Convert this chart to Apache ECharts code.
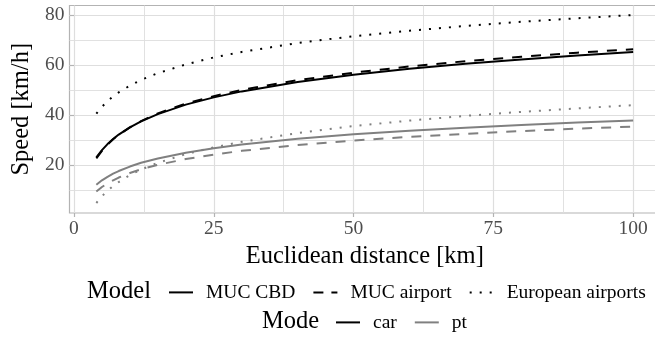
<!DOCTYPE html>
<html>
<head>
<meta charset="utf-8">
<script src="https://cdn.jsdelivr.net/npm/echarts@6/dist/echarts.min.js"></script>
<style>
html,body{margin:0;padding:0;background:#ffffff;}
#chart{width:655px;height:338px;}
</style>
</head>
<body>
<div id="chart"></div>
<script>
// ---- data ----
const distance   = [4, 5, 6, 7, 8, 10, 12, 15, 20, 25, 30, 40, 50, 60, 70, 80, 90, 100];
const carCBD      = [23.0, 25.9, 28.3, 30.3, 32.1, 35.0, 37.4, 40.3, 44.1, 47.0, 49.4, 53.2, 56.1, 58.5, 60.5, 62.2, 63.8, 65.2];
const carAirport  = [22.6, 25.6, 28.1, 30.2, 32.0, 35.0, 37.5, 40.6, 44.5, 47.5, 50.0, 53.9, 56.9, 59.4, 61.5, 63.3, 64.9, 66.3];
const carEuropean = [40.5, 43.2, 45.5, 47.4, 49.0, 51.7, 54.0, 56.7, 60.2, 63.0, 65.2, 68.8, 71.5, 73.7, 75.6, 77.3, 78.7, 80.0];
const ptCBD       = [12.0, 13.8, 15.2, 16.5, 17.5, 19.3, 20.8, 22.5, 24.8, 26.6, 28.1, 30.4, 32.2, 33.6, 34.8, 35.9, 36.9, 37.7];
const ptAirport   = [9.3, 11.1, 12.6, 13.8, 14.9, 16.7, 18.2, 20.0, 22.3, 24.1, 25.6, 27.9, 29.7, 31.2, 32.4, 33.5, 34.5, 35.3];
const ptEuropean  = [4.7, 7.4, 9.6, 11.5, 13.1, 15.9, 18.1, 20.8, 24.3, 27.0, 29.2, 32.7, 35.5, 37.7, 39.6, 41.2, 42.6, 43.9];

const xMajorTicks = [0, 25, 50, 75, 100];
const xMinorTicks = [12.5, 37.5, 62.5, 87.5];
const yMajorTicks = [20, 40, 60, 80];
const yMinorTicks = [10, 30, 50, 70];

const modelNames = ['MUC CBD', 'MUC airport', 'European airports'];
const modeNames  = ['car', 'pt'];

// ---- styling ----
const FONT = '"Liberation Serif", "Times New Roman", serif';
const BLACK = '#000000';
const GREY = '#808080';
const GRID = '#dedede';
const BORDER = '#b3b3b3';
const TICKTEXT = '#4d4d4d';
const LINE_W = 2;
const dashOf = { 'MUC CBD': 'solid', 'MUC airport': [10, 9], 'European airports': [2, 8] };
const colorOf = { car: BLACK, pt: GREY };
const NONE = 'rgba(0,0,0,0)';

const X_MIN = -0.8, X_MAX = 104.8, Y_MIN = 0.7, Y_MAX = 83.8;

const lines = [
  { mode: 'pt',  model: 'MUC CBD',           values: ptCBD },
  { mode: 'pt',  model: 'MUC airport',       values: ptAirport },
  { mode: 'pt',  model: 'European airports', values: ptEuropean },
  { mode: 'car', model: 'MUC CBD',           values: carCBD },
  { mode: 'car', model: 'MUC airport',       values: carAirport },
  { mode: 'car', model: 'European airports', values: carEuropean }
];

const series = lines.map(l => ({
  type: 'line',
  name: l.mode + ' / ' + l.model,
  xAxisIndex: 0, yAxisIndex: 0,
  data: distance.map((d, i) => [d, l.values[i]]),
  symbol: 'none',
  smooth: false,
  silent: true,
  lineStyle: { color: colorOf[l.mode], width: LINE_W, type: dashOf[l.model], cap: 'butt' },
  itemStyle: { color: colorOf[l.mode] },
  z: l.mode === 'car' ? 3 : 2
}));

// legend-only series (no data, only provide the legend keys)
modelNames.forEach(m => series.push({
  type: 'line', name: m, data: [], symbol: 'none', symbolSize: 0,
  xAxisIndex: 0, yAxisIndex: 0,
  lineStyle: { color: BLACK, width: LINE_W, type: m === 'MUC airport' ? [10, 8] : dashOf[m] },
  itemStyle: { color: NONE, borderColor: NONE, borderWidth: 0, opacity: 0 }
}));
modeNames.forEach(m => series.push({
  type: 'line', name: m, data: [], symbol: 'none', symbolSize: 0,
  xAxisIndex: 0, yAxisIndex: 0,
  lineStyle: { color: colorOf[m], width: LINE_W, type: 'solid' },
  itemStyle: { color: NONE, borderColor: NONE, borderWidth: 0, opacity: 0 }
}));

const labelStyle = { color: TICKTEXT, fontFamily: FONT, fontSize: 19.5 };

const legendCommon = {
  orient: 'horizontal',
  itemWidth: 24, itemHeight: 20, itemGap: 17, padding: 0, selectedMode: false,
  itemStyle: { color: NONE, borderColor: NONE, borderWidth: 0, opacity: 0 },
  textStyle: { fontFamily: FONT, fontSize: 19.5, color: '#000000', padding: [0, 0, 0, 8] }
};

const option = {
  animation: false,
  backgroundColor: '#ffffff',
  grid: {
    left: 69.5, top: 5.5, right: -5, bottom: 125,
    show: true, borderColor: BORDER, borderWidth: 1.2, backgroundColor: 'transparent',
    containLabel: false, outerBoundsMode: 'none'
  },
  xAxis: [
    {
      type: 'value', min: X_MIN, max: X_MAX, gridIndex: 0, position: 'bottom',
      axisLine: { show: false },
      axisTick: { show: true, length: 4, lineStyle: { color: BORDER, width: 1.2 }, customValues: xMajorTicks },
      axisLabel: Object.assign({ show: true, margin: 6, customValues: xMajorTicks }, labelStyle),
      splitLine: { show: true, lineStyle: { color: GRID, width: 1.2 } },
      name: 'Euclidean distance [km]', nameLocation: 'middle', nameGap: 27,
      nameTextStyle: { fontFamily: FONT, fontSize: 24.5, color: '#000000' }
    },
    {
      type: 'value', min: X_MIN, max: X_MAX, gridIndex: 0, position: 'top',
      axisLine: { show: false },
      axisTick: { show: false, customValues: xMinorTicks },
      axisLabel: { show: false, customValues: xMinorTicks },
      splitLine: { show: true, lineStyle: { color: GRID, width: 0.9 } }
    }
  ],
  yAxis: [
    {
      type: 'value', min: Y_MIN, max: Y_MAX, gridIndex: 0, position: 'left',
      axisLine: { show: false },
      axisTick: { show: true, length: 4, lineStyle: { color: BORDER, width: 1.2 }, customValues: yMajorTicks },
      axisLabel: Object.assign({ show: true, margin: 5, customValues: yMajorTicks }, labelStyle),
      splitLine: { show: true, lineStyle: { color: GRID, width: 1.2 } },
      name: 'Speed [km/h]', nameLocation: 'middle', nameGap: 31, nameRotate: 90,
      nameTextStyle: { fontFamily: FONT, fontSize: 24.5, color: '#000000' }
    },
    {
      type: 'value', min: Y_MIN, max: Y_MAX, gridIndex: 0, position: 'right',
      axisLine: { show: false },
      axisTick: { show: false, customValues: yMinorTicks },
      axisLabel: { show: false, customValues: yMinorTicks },
      splitLine: { show: true, lineStyle: { color: GRID, width: 0.9 } }
    }
  ],
  legend: [
    Object.assign({ data: modelNames, left: 168, top: 282.4 }, legendCommon),
    Object.assign({ data: modeNames, left: 335, top: 312.4 }, legendCommon)
  ],
  graphic: [
    { type: 'text', x: 87, y: 291.7, silent: true,
      style: { text: 'Model', font: '24.5px ' + FONT, fill: '#000000', align: 'left', verticalAlign: 'middle' } },
    { type: 'text', x: 262, y: 321.7, silent: true,
      style: { text: 'Mode', font: '24.5px ' + FONT, fill: '#000000', align: 'left', verticalAlign: 'middle' } }
  ],
  series: series
};

const chart = echarts.init(document.getElementById('chart'), null, { renderer: 'canvas' });
chart.setOption(option);
</script>
</body>
</html>
